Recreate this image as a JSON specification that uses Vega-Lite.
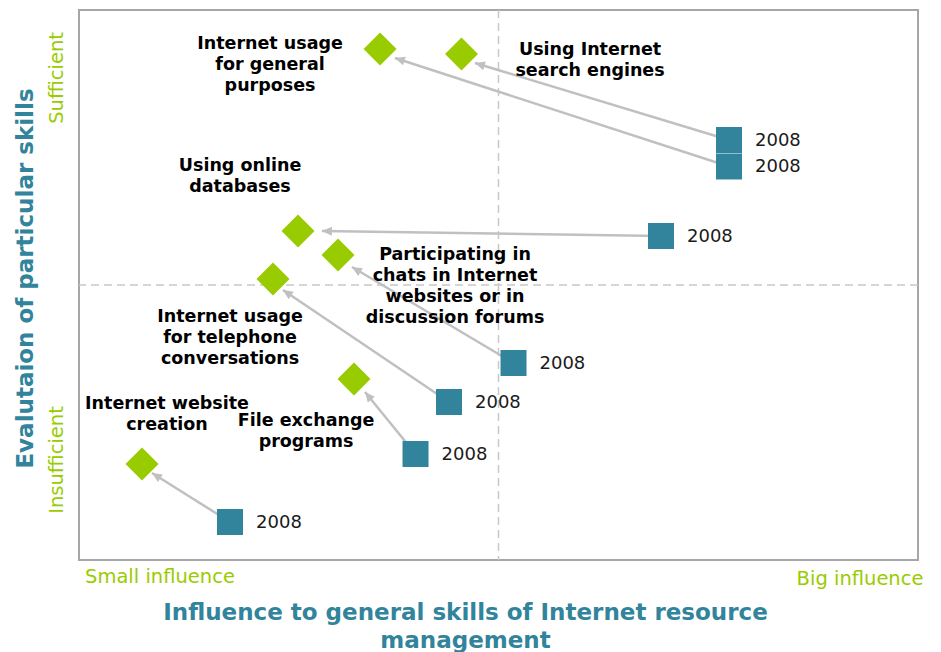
{
  "$schema": "https://vega.github.io/schema/vega-lite/v6.json",
  "autosize": "none",
  "width": 839,
  "height": 550,
  "padding": {"left": 79, "top": 10, "right": 23, "bottom": 92},
  "background": "white",
  "config": {
    "view": {"stroke": "#a6a6a6", "strokeWidth": 2},
    "font": "DejaVu Sans"
  },
  "datasets": {
    "items": [
      {"item": "Internet usage for general purposes", "label": "Internet usage\nfor general\npurposes", "x2008": 7.747, "y2008": 7.155, "xNow": 3.588, "yNow": 9.291, "tipX": 3.766, "tipY": 9.127, "labelX": 2.277, "labelY": 9.291, "year": "2008"},
      {"item": "Using Internet search engines", "label": "Using Internet\nsearch engines", "x2008": 7.747, "y2008": 7.636, "xNow": 4.559, "yNow": 9.2, "tipX": 4.72, "tipY": 9.036, "labelX": 6.091, "labelY": 9.182, "year": "2008"},
      {"item": "Using online databases", "label": "Using online\ndatabases", "x2008": 6.937, "y2008": 5.891, "xNow": 2.61, "yNow": 5.982, "tipX": 2.896, "tipY": 5.982, "labelX": 1.919, "labelY": 7.073, "year": "2008"},
      {"item": "Participating in chats in Internet websites or in discussion forums", "label": "Participating in\nchats in Internet\nwebsites or in\ndiscussion forums", "x2008": 5.179, "y2008": 3.582, "xNow": 3.087, "yNow": 5.545, "tipX": 3.254, "tipY": 5.327, "labelX": 4.482, "labelY": 5.455, "year": "2008"},
      {"item": "Internet usage for telephone conversations", "label": "Internet usage\nfor telephone\nconversations", "x2008": 4.41, "y2008": 2.873, "xNow": 2.312, "yNow": 5.109, "tipX": 2.431, "tipY": 4.909, "labelX": 1.8, "labelY": 4.327, "year": "2008"},
      {"item": "File exchange programs", "label": "File exchange\nprograms", "x2008": 4.011, "y2008": 1.927, "xNow": 3.278, "yNow": 3.291, "tipX": 3.409, "tipY": 3.055, "labelX": 2.706, "labelY": 2.436, "year": "2008"},
      {"item": "Internet website creation", "label": "Internet website\ncreation", "x2008": 1.8, "y2008": 0.691, "xNow": 0.751, "yNow": 1.745, "tipX": 0.87, "tipY": 1.582, "labelX": 1.049, "labelY": 2.745, "year": "2008"}
    ],
    "quadrant": [
      {"xMid": 5, "yMid": 5}
    ],
    "sideLabels": [
      {"text": "Sufficient", "x": -0.262, "y": 8.764},
      {"text": "Insufficient", "x": -0.262, "y": 1.818}
    ],
    "bottomLabels": [
      {"text": "Small influence", "x": 0.965, "y": -0.309},
      {"text": "Big influence", "x": 9.309, "y": -0.345}
    ]
  },
  "layer": [
    {
      "data": {"name": "quadrant"},
      "mark": {"type": "rule", "strokeDash": [8, 5], "color": "#c8c8c8", "strokeWidth": 1.5},
      "encoding": {
        "x": {"field": "xMid", "type": "quantitative", "scale": {"domain": [0, 10], "nice": false, "zero": false},
          "axis": {"title": ["Influence to general skills of Internet resource", "management"], "titleFontSize": 23, "titleFontWeight": "bold", "titleColor": "#31849b", "titleX": 386, "titleY": 59, "titleBaseline": "alphabetic", "titleAlign": "center", "titleLineHeight": 28, "domain": false, "ticks": false, "labels": false, "grid": false}}
      }
    },
    {
      "data": {"name": "quadrant"},
      "mark": {"type": "rule", "strokeDash": [8, 5], "color": "#c8c8c8", "strokeWidth": 1.5},
      "encoding": {
        "y": {"field": "yMid", "type": "quantitative", "scale": {"domain": [0, 10], "nice": false, "zero": false},
          "axis": {"title": "Evalutaion of particular skills", "titleFontSize": 23, "titleFontWeight": "bold", "titleColor": "#31849b", "titleAngle": 270, "titleX": -54, "titleY": 268, "titleBaseline": "middle", "titleAlign": "center", "domain": false, "ticks": false, "labels": false, "grid": false}}
      }
    },
    {
      "data": {"name": "items"},
      "mark": {"type": "rule", "color": "#c0c0c0", "strokeWidth": 2.5},
      "encoding": {
        "x": {"field": "x2008", "type": "quantitative", "scale": {"domain": [0, 10], "nice": false, "zero": false}},
        "y": {"field": "y2008", "type": "quantitative", "scale": {"domain": [0, 10], "nice": false, "zero": false}},
        "x2": {"field": "tipX"},
        "y2": {"field": "tipY"}
      }
    },
    {
      "data": {"name": "items"},
      "transform": [
        {"calculate": "atan2((datum.tipX - datum.x2008) * 83.9, (datum.tipY - datum.y2008) * 55) * 180 / PI", "as": "arrowAngle"}
      ],
      "mark": {"type": "point", "shape": "M0,0 L-1,2.2 L1,2.2 Z", "filled": true, "color": "#c0c0c0", "opacity": 1, "size": 81},
      "encoding": {
        "x": {"field": "tipX", "type": "quantitative", "scale": {"domain": [0, 10], "nice": false, "zero": false}},
        "y": {"field": "tipY", "type": "quantitative", "scale": {"domain": [0, 10], "nice": false, "zero": false}},
        "angle": {"field": "arrowAngle", "type": "quantitative", "scale": null}
      }
    },
    {
      "data": {"name": "items"},
      "mark": {"type": "point", "shape": "diamond", "filled": true, "color": "#99cc00", "opacity": 1, "size": 1089},
      "encoding": {
        "x": {"field": "xNow", "type": "quantitative", "scale": {"domain": [0, 10], "nice": false, "zero": false}},
        "y": {"field": "yNow", "type": "quantitative", "scale": {"domain": [0, 10], "nice": false, "zero": false}},
        "tooltip": {"field": "item"}
      }
    },
    {
      "data": {"name": "items"},
      "mark": {"type": "point", "shape": "square", "filled": true, "color": "#31849b", "opacity": 1, "size": 676},
      "encoding": {
        "x": {"field": "x2008", "type": "quantitative", "scale": {"domain": [0, 10], "nice": false, "zero": false}},
        "y": {"field": "y2008", "type": "quantitative", "scale": {"domain": [0, 10], "nice": false, "zero": false}},
        "tooltip": {"field": "item"}
      }
    },
    {
      "data": {"name": "items"},
      "mark": {"type": "text", "align": "left", "baseline": "middle", "dx": 26, "dy": 1, "fontSize": 18, "color": "#1a1a1a"},
      "encoding": {
        "x": {"field": "x2008", "type": "quantitative", "scale": {"domain": [0, 10], "nice": false, "zero": false}},
        "y": {"field": "y2008", "type": "quantitative", "scale": {"domain": [0, 10], "nice": false, "zero": false}},
        "text": {"field": "year"}
      }
    },
    {
      "data": {"name": "items"},
      "mark": {"type": "text", "align": "center", "baseline": "alphabetic", "lineBreak": "\n", "lineHeight": 21, "fontSize": 17.5, "fontWeight": "bold", "color": "#000000"},
      "encoding": {
        "x": {"field": "labelX", "type": "quantitative", "scale": {"domain": [0, 10], "nice": false, "zero": false}},
        "y": {"field": "labelY", "type": "quantitative", "scale": {"domain": [0, 10], "nice": false, "zero": false}},
        "text": {"field": "label"}
      }
    },
    {
      "data": {"name": "sideLabels"},
      "mark": {"type": "text", "align": "center", "baseline": "middle", "angle": 270, "fontSize": 19.5, "color": "#99cc00"},
      "encoding": {
        "x": {"field": "x", "type": "quantitative", "scale": {"domain": [0, 10], "nice": false, "zero": false}},
        "y": {"field": "y", "type": "quantitative", "scale": {"domain": [0, 10], "nice": false, "zero": false}},
        "text": {"field": "text"}
      }
    },
    {
      "data": {"name": "bottomLabels"},
      "mark": {"type": "text", "align": "center", "baseline": "middle", "fontSize": 19.5, "color": "#99cc00"},
      "encoding": {
        "x": {"field": "x", "type": "quantitative", "scale": {"domain": [0, 10], "nice": false, "zero": false}},
        "y": {"field": "y", "type": "quantitative", "scale": {"domain": [0, 10], "nice": false, "zero": false}},
        "text": {"field": "text"}
      }
    }
  ]
}
